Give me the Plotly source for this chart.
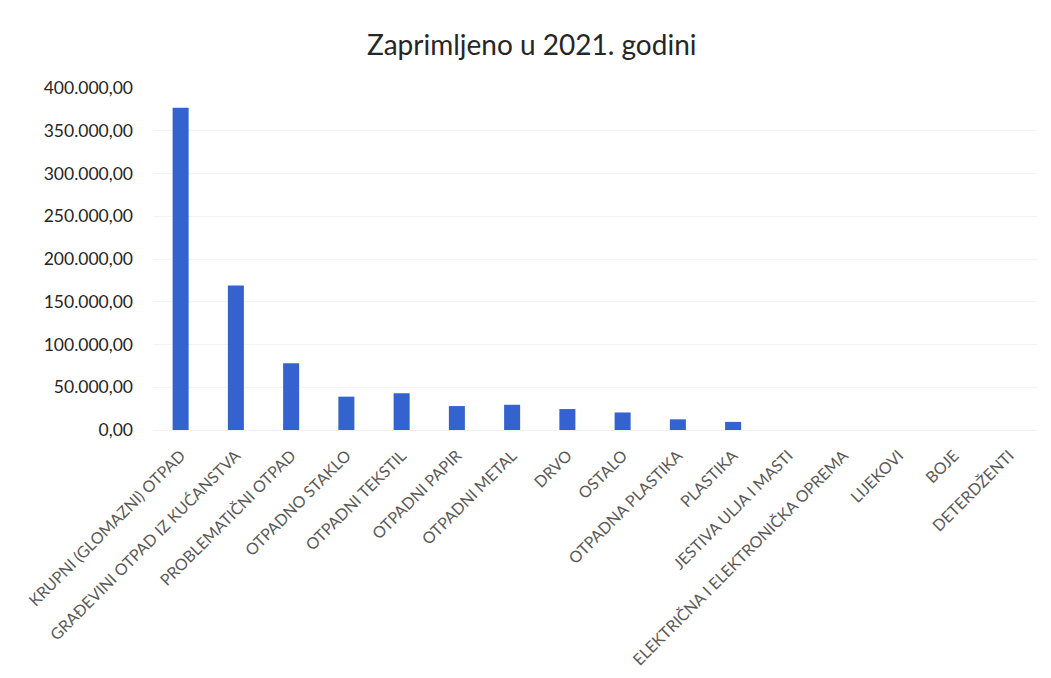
import plotly.graph_objects as go

categories = [
    "KRUPNI (GLOMAZNI) OTPAD",
    "GRAĐEVINI OTPAD IZ KUĆANSTVA",
    "PROBLEMATIČNI OTPAD",
    "OTPADNO STAKLO",
    "OTPADNI TEKSTIL",
    "OTPADNI PAPIR",
    "OTPADNI METAL",
    "DRVO",
    "OSTALO",
    "OTPADNA PLASTIKA",
    "PLASTIKA",
    "JESTIVA ULJA I MASTI",
    "ELEKTRIČNA I ELEKTRONIČKA OPREMA",
    "LIJEKOVI",
    "BOJE",
    "DETERDŽENTI",
]
values = [377000, 169000, 78000, 39000, 43000, 28000, 29500, 24500, 20500,
          12500, 9500, 0, 0, 0, 0, 0]
y_ticks = [0, 50000, 100000, 150000, 200000, 250000, 300000, 350000, 400000]

fig = go.Figure(go.Bar(
    x=categories, y=values,
    marker=dict(color="#3463d0", line=dict(width=0)),
))

fig.update_layout(
    width=1035, height=670,
    paper_bgcolor="white", plot_bgcolor="white",
    margin=dict(l=145, r=6, t=80, b=248, autoexpand=False),
    separators=",.",
    bargap=0.71,
    font=dict(family="Lato, Open Sans, sans-serif", color="#262626"),
    title=dict(text="Zaprimljeno u 2021. godini", x=0.506, xanchor="center",
               y=1 - 37 / 670, yanchor="middle",
               font=dict(size=28, color="#262626")),
    showlegend=False,
)
fig.update_yaxes(
    range=[0, 400000], tickvals=y_ticks, tickformat=",.2f",
    showgrid=True, gridcolor="#f3f3f3", gridwidth=1,
    zeroline=False, showline=False, ticks="", automargin=False,
    tickfont=dict(size=17.5, color="#262626"), ticklabelstandoff=19,
)
fig.update_xaxes(
    tickangle=-45, showgrid=False, showline=True, linecolor="#f0f0f0",
    ticks="", automargin=False,
    tickfont=dict(size=16, color="#595959"), ticklabelstandoff=9,
)

fig.write_html("out.html")
